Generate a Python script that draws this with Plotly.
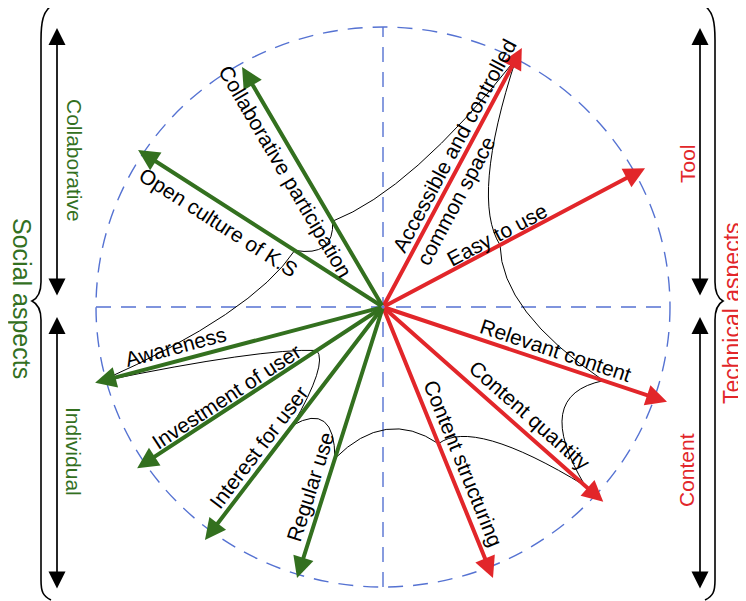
import math
import plotly.graph_objects as go

# ---------------- data ----------------
factors = [
    "Accessible and controlled<br>common space",
    "Easy to use",
    "Relevant content",
    "Content quantity",
    "Content structuring",
    "Regular use",
    "Interest for user",
    "Investment of user",
    "Awareness",
    "Open culture of K.S",
    "Collaborative participation",
]
groups = ["Tool", "Tool", "Content", "Content", "Content",
          "Individual", "Individual", "Individual", "Individual",
          "Collaborative", "Collaborative"]
angle_deg = [62.4, 28.5, -18.9, -42.2, -68.4, -107.2, -126.7, -146.1, -164.9, 146.7, 119.8]
arrow_len = [1.044, 1.039, 1.046, 1.036, 1.041, 1.013, 1.038, 1.032, 1.039, 1.021, 0.988]
score = [1.0, 0.464, 0.812, 0.951, 0.525, 0.566, 0.527, 0.278, 1.02, 0.368, 0.353]

left_groups = ["Collaborative", "Individual"]
right_groups = ["Tool", "Content"]
left_title = "Social aspects"
right_title = "Technical aspects"

# ---------------- layout / style ----------------
WIN_W, WIN_H = 746, 601
OFF = 8                      # default page margin around the plot div
W_FIG, H_FIG = WIN_W - OFF, WIN_H - OFF
CX, CY = 383 - OFF, 307 - OFF    # figure-pixel position of the circle centre
SX, SY = 287, 280                # pixels per unit radius
GREEN = "#33701f"
RED = "#e2262a"
BLUE = "#5572d2"
FONT = "Liberation Sans, Arial, Helvetica, sans-serif"
colour = {"Tool": RED, "Content": RED, "Individual": GREEN, "Collaborative": GREEN}

# label placement: (distance along arrow in px, offset to text-up side in px, reading direction)
label_place = [
    (176, 0, "out"), (135, 11, "out"), (178, 14, "out"), (182, 16, "out"), (175, 16, "out"),
    (194, 15, "in"), (187, 14, "in"), (180, 11, "in"), (210, 14, "in"),
    (184, -17, "in"), (166, -16, "in"),
]
CURVE_K = 0.7

fig = go.Figure()

n = len(factors)
px_ = [s * math.cos(math.radians(a)) for s, a in zip(score, angle_deg)]
py_ = [s * math.sin(math.radians(a)) for s, a in zip(score, angle_deg)]
fig.add_trace(go.Scatter(x=px_, y=py_, mode="markers", marker=dict(size=1, opacity=0),
                         hoverinfo="skip", showlegend=False))

shapes = []
annotations = []

# dashed circle and cross
dash = "15px,10px"
shapes.append(dict(type="circle", xref="x", yref="y", x0=-1, y0=-1, x1=1, y1=1,
                   line=dict(color=BLUE, width=1.4, dash=dash)))
shapes.append(dict(type="line", xref="x", yref="y", x0=-1, y0=0, x1=1, y1=0,
                   line=dict(color=BLUE, width=1.4, dash=dash)))
shapes.append(dict(type="line", xref="x", yref="y", x0=0, y0=-1, x1=0, y1=1,
                   line=dict(color=BLUE, width=1.4, dash=dash)))

# curves joining consecutive scores (quadratic Bezier bowed toward centre)
for i in range(n):
    j = (i + 1) % n
    x0, y0 = px_[i], py_[i]
    x1, y1 = px_[j], py_[j]
    cx, cy = CURVE_K * (x0 + x1) / 2, CURVE_K * (y0 + y1) / 2
    shapes.append(dict(type="path", xref="x", yref="y",
                       path=f"M{x0},{y0} Q{cx},{cy} {x1},{y1}",
                       line=dict(color="black", width=1)))

# arrows
order = [i for i in range(n) if colour[groups[i]] == RED] + [i for i in range(n) if colour[groups[i]] == GREEN]
for i in order:
    a = math.radians(angle_deg[i])
    annotations.append(dict(
        x=arrow_len[i] * math.cos(a), y=arrow_len[i] * math.sin(a), xref="x", yref="y",
        ax=0, ay=0, axref="x", ayref="y", text="", showarrow=True,
        arrowhead=2, arrowsize=1.05, arrowwidth=4, arrowcolor=colour[groups[i]], standoff=0,
        font=dict(size=1)))

# labels along arrows
for i in range(n):
    a = math.radians(angle_deg[i])
    along, off, reading = label_place[i]
    dxp, dyp = SX * math.cos(a), -SY * math.sin(a)   # screen direction (y down)
    t = along / math.hypot(dxp, dyp)
    phi = math.degrees(math.atan2(dyp, dxp))
    if reading == "in":
        phi += 180
    if phi > 180:
        phi -= 360
    pr = math.radians(phi)
    annotations.append(dict(
        x=t * math.cos(a), y=t * math.sin(a), xref="x", yref="y",
        xshift=off * math.sin(pr), yshift=off * math.cos(pr),
        text=factors[i], showarrow=False, textangle=phi, align="left",
        xanchor="center", yanchor="middle",
        font=dict(family=FONT, size=21, color="black")))


# side structure (paper coordinates from window-pixel layout)
def ppx(x):
    return (x - OFF) / W_FIG


def ppy(y):
    return 1 - (y - OFF) / H_FIG


def brace(xe, xs, xt):
    """xe: end x, xs: spine x, xt: tip x (window pixels)."""
    d = 1 if xs > xe else -1
    return (f"M{ppx(xe)},{ppy(6)} C{ppx(xe + d * 8)},{ppy(12)} {ppx(xs)},{ppy(22)} {ppx(xs)},{ppy(40)} "
            f"L{ppx(xs)},{ppy(282)} C{ppx(xs)},{ppy(293)} {ppx(xs + (xt - xs) * 0.33)},{ppy(298)} {ppx(xt)},{ppy(301)} "
            f"C{ppx(xs + (xt - xs) * 0.33)},{ppy(304)} {ppx(xs)},{ppy(309)} {ppx(xs)},{ppy(320)} "
            f"L{ppx(xs)},{ppy(580)} C{ppx(xs)},{ppy(592)} {ppx(xe + d * 8)},{ppy(596)} {ppx(xe)},{ppy(600)}")


for p in (brace(51, 41, 32), brace(705, 715, 723)):
    shapes.append(dict(type="path", xref="paper", yref="paper", path=p,
                       line=dict(color="black", width=1.6)))

for xp in (57, 700):
    for (ytop, ybot) in ((28, 297), (317, 590)):
        annotations.append(dict(
            x=ppx(xp), y=ppy(ytop), xref="paper", yref="paper",
            ax=0, ay=ybot - ytop, axref="pixel", ayref="pixel",
            text="", showarrow=True, arrowside="end+start",
            arrowhead=2, arrowsize=2.0, arrowwidth=1.7, arrowcolor="black", standoff=0,
            font=dict(size=1)))

side_text = [
    (left_groups[0], 74, 160, 90, GREEN, 21),
    (left_groups[1], 74, 451, 90, GREEN, 21),
    (left_title, 22, 298, 90, GREEN, 25),
    (right_groups[0], 687, 164, -90, RED, 21),
    (right_groups[1], 686, 470, -90, RED, 21),
    (right_title, 732, 313, -90, RED, 23),
]
for txt, xp, yp, ang, col, fs in side_text:
    annotations.append(dict(x=ppx(xp), y=ppy(yp), xref="paper", yref="paper",
                            text=txt, showarrow=False, textangle=ang,
                            xanchor="center", yanchor="middle",
                            font=dict(family=FONT, size=fs, color=col)))

fig.update_layout(
    width=W_FIG, height=H_FIG,
    margin=dict(l=0, r=0, t=0, b=0),
    paper_bgcolor="white", plot_bgcolor="white",
    xaxis=dict(range=[-CX / SX, (W_FIG - CX) / SX], visible=False, fixedrange=True),
    yaxis=dict(range=[-(H_FIG - CY) / SY, CY / SY], visible=False, fixedrange=True),
    shapes=shapes, annotations=annotations, showlegend=False,
)

fig.write_html("out.html")
